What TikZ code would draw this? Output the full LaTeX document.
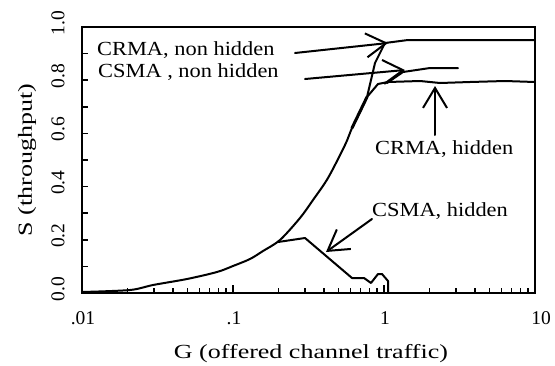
\documentclass[tikz,border=0pt]{standalone}
\usepackage{fontspec}
\setmainfont{Liberation Serif}[FakeStretch=1.12]
\newfontfamily\numfont{Liberation Serif}
\newfontfamily\widefont{Liberation Serif}[FakeStretch=1.3]
\usetikzlibrary{arrows.meta}
\begin{document}
\begin{tikzpicture}[x=1pt,y=-1pt,
  frame/.style={line width=2pt},
  curve/.style={line width=2pt, line join=round, line cap=round},
  lbl/.style={font=\fontsize{20}{22}\selectfont, inner sep=0pt},
  numlbl/.style={font=\numfont\fontsize{19.5}{21}\selectfont, inner sep=0pt},
  callout/.style={line width=2pt, line cap=round, -{Straight Barb[length=20pt,width=24pt,line width=2pt]}},
  tickmark/.style={line width=1.6pt}]
\useasboundingbox (0,0) rectangle (555,365);
% frame
\draw[frame] (82,27) rectangle (535,293);
% x ticks
\foreach \d in {0,1,2}{
  \foreach \k in {2,...,9}{
    \draw[tickmark] ({82+151*(\d+log10(\k))},293) -- ++(0,-5);
  }
}
\draw[tickmark] (233,293) -- ++(0,-8);
\draw[tickmark] (384,293) -- ++(0,-8);
% y ticks
\foreach \i in {1,...,9}{
  \draw[tickmark] (82,{293-26.6*\i}) -- ++(6,0);
}
% tick labels
\node[numlbl, anchor=base] (x01) at (83,324) {.01};
\node[numlbl, anchor=base] (x1) at (234,324) {.1};
\node[numlbl, anchor=base] (x10) at (385,324) {1};
\node[numlbl, anchor=base] (x100) at (541,324) {10};
\foreach \v/\t in {0/0.0,1/0.2,2/0.4,3/0.6,4/0.8,5/1.0}{
  \node[numlbl, rotate=90] (y\v) at (58,{293-53.2*\v-4}) {\t};
}
% axis labels
\node[lbl, font=\widefont\fontsize{20}{22}\selectfont, anchor=base] (xlab) at (311,358) {G (offered channel traffic)};
\node[lbl, font=\widefont\fontsize{20}{22}\selectfont, rotate=90] (ylab) at (27,160) {S (throughput)};
% curves
\draw[curve] plot[smooth, tension=0.5] coordinates {(82,292) (130,290) (153,285) (187,279) (217,272) (233,266)
  (250,259) (263,251) (280,240) (300,218) (313,200) (328,178)
  (345,145) (352,128) (360,112) (367,97)} -- (375,63) -- (385,43)
  -- (408,40) -- (535,40);
\draw[curve, line width=3pt] (352,128) -- (367,97);
\draw[curve] (367,97) -- (378,84) -- (388,82) -- (420,81) -- (440,83) -- (470,82) -- (505,81) -- (535,82);
\draw[curve] (387,83) -- (403,72) -- (430,68) -- (458,68);
\draw[curve] (278,242) -- (305,238) -- (352,278) -- (364,278) -- (371,283)
  -- (378,274) -- (382,274) -- (388,281) -- (388,292);
% labels
\node[lbl, anchor=base west] (crmanh) at (97,55) {CRMA, non hidden};
\node[lbl, anchor=base west] (csmanh) at (98,77) {CSMA , non hidden};
\node[lbl, anchor=base west] (crmah) at (375,154) {CRMA, hidden};
\node[lbl, anchor=base west] (csmah) at (372,216) {CSMA, hidden};
% callout arrows
\coordinate (a1s) at (295,53); \coordinate (a1e) at (388,43);
\coordinate (a2s) at (305,79); \coordinate (a2e) at (405,70);
\coordinate (a3s) at (435,135); \coordinate (a3e) at (435,86);
\coordinate (a4s) at (372,219); \coordinate (a4e) at (326,252);
\draw[callout] (a1s) -- (a1e);
\draw[callout] (a2s) -- (a2e);
\draw[callout] (a3s) -- (a3e);
\draw[callout] (a4s) -- (a4e);
\end{tikzpicture}
\end{document}
